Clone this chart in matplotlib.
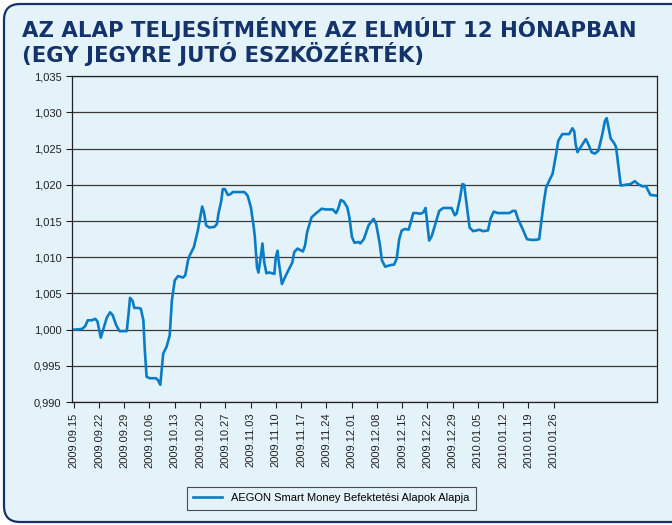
import numpy as np
import matplotlib
matplotlib.use("Agg")
from matplotlib import pyplot as plt
from matplotlib.patches import FancyBboxPatch
from matplotlib.transforms import IdentityTransform
from matplotlib.ticker import FuncFormatter

# days since 2009.09.15 and net asset value per unit
day = [0.0, 2.3, 3.2, 3.9, 5.0, 6.0, 6.6, 7.5, 8.4, 9.2, 10.1, 10.8, 11.8, 12.7,
       13.8, 14.7, 15.2, 15.6, 16.3, 16.8, 17.9, 18.6, 19.3, 19.7, 20.2, 21.1,
       22.8, 23.4, 24.0, 24.8, 25.7, 26.6, 27.2, 28.0, 28.9, 30.3, 30.9, 31.7,
       32.1, 33.3, 34.4, 35.3, 35.6, 36.1, 36.7, 37.6, 39.0, 39.7, 40.1, 40.9,
       41.3, 41.9, 42.7, 43.4, 44.1, 47.3, 48.2, 49.1, 49.9, 50.2, 50.8, 51.2,
       51.7, 52.3, 52.8, 53.4, 54.2, 55.6, 56.0, 56.5, 56.7, 57.7, 58.6, 59.7,
       60.6, 61.1, 62.0, 63.5, 64.1, 64.7, 65.9, 67.0, 68.7, 69.8, 71.8, 72.7,
       73.3, 74.0, 74.8, 75.8, 76.4, 77.1, 77.8, 79.0, 79.4, 80.4, 81.7, 83.1,
       83.8, 84.8, 85.4, 86.3, 87.7, 88.8, 89.5, 90.2, 90.9, 91.8, 92.8, 93.4,
       94.1, 95.0, 96.1, 96.9, 97.5, 98.1, 98.5, 99.2, 100.1, 101.3, 102.4,
       104.7, 105.6, 106.1, 107.0, 107.7, 108.2, 109.1, 109.7, 110.7, 112.5,
       113.4, 114.8, 115.5, 116.4, 117.5, 120.7, 121.7, 122.4, 123.1, 124.4,
       125.6, 126.7, 128.1, 129.0, 129.5, 130.2, 130.9, 131.8, 132.7, 133.6,
       134.3, 135.4, 137.3, 138.2, 138.7, 139.1, 139.6, 140.5, 141.9, 142.8,
       143.5, 144.4, 145.4, 146.5, 147.2, 147.7, 148.3, 148.8, 149.7, 150.3,
       151.0, 151.6, 152.9, 154.3, 155.5, 156.4, 157.5, 158.6, 159.8, 161.6]
nav = [1.0000, 1.0001, 1.0005, 1.0013, 1.0013, 1.0015, 1.0011, 0.9989, 1.0004,
       1.0017, 1.0024, 1.0020, 1.0006, 0.9998, 0.9998, 0.9998, 1.0022, 1.0044,
       1.0040, 1.0030, 1.0030, 1.0029, 1.0013, 0.9972, 0.9935, 0.9933, 0.9933,
       0.9930, 0.9924, 0.9967, 0.9976, 0.9992, 1.0040, 1.0068, 1.0074, 1.0072,
       1.0075, 1.0096, 1.0102, 1.0114, 1.0137, 1.0162, 1.0170, 1.0162, 1.0144,
       1.0141, 1.0142, 1.0146, 1.0160, 1.0178, 1.0194, 1.0194, 1.0186, 1.0187,
       1.0190, 1.0190, 1.0185, 1.0169, 1.0141, 1.0128, 1.0086, 1.0079, 1.0096,
       1.0119, 1.0093, 1.0078, 1.0079, 1.0077, 1.0100, 1.0109, 1.0098, 1.0063,
       1.0073, 1.0084, 1.0093, 1.0107, 1.0112, 1.0108, 1.0116, 1.0135, 1.0155,
       1.0160, 1.0167, 1.0166, 1.0166, 1.0161, 1.0167, 1.0179, 1.0177, 1.0169,
       1.0155, 1.0128, 1.0120, 1.0121, 1.0119, 1.0125, 1.0144, 1.0153, 1.0146,
       1.0119, 1.0096, 1.0087, 1.0089, 1.0090, 1.0098, 1.0125, 1.0137, 1.0139,
       1.0138, 1.0148, 1.0161, 1.0161, 1.0160, 1.0162, 1.0168, 1.0141, 1.0123,
       1.0129, 1.0144, 1.0164, 1.0168, 1.0168, 1.0158, 1.0160, 1.0180, 1.0201,
       1.0200, 1.0164, 1.0141, 1.0136, 1.0138, 1.0136, 1.0137, 1.0153, 1.0163,
       1.0161, 1.0161, 1.0164, 1.0164, 1.0153, 1.0139, 1.0125, 1.0124, 1.0124,
       1.0125, 1.0146, 1.0173, 1.0196, 1.0206, 1.0215, 1.0240, 1.0261, 1.0270,
       1.0270, 1.0278, 1.0274, 1.0256, 1.0245, 1.0252, 1.0263, 1.0254, 1.0245,
       1.0243, 1.0247, 1.0270, 1.0288, 1.0292, 1.0277, 1.0264, 1.0258, 1.0252,
       1.0224, 1.0199, 1.0200, 1.0201, 1.0205, 1.0201, 1.0198, 1.0198, 1.0186,
       1.0185]

date_labels = ["2009.09.15", "2009.09.22", "2009.09.29", "2009.10.06",
               "2009.10.13", "2009.10.20", "2009.10.27", "2009.11.03",
               "2009.11.10", "2009.11.17", "2009.11.24", "2009.12.01",
               "2009.12.08", "2009.12.15", "2009.12.22", "2009.12.29",
               "2010.01.05", "2010.01.12", "2010.01.19", "2010.01.26"]
y_ticks = [0.990, 0.995, 1.000, 1.005, 1.010, 1.015, 1.020, 1.025, 1.030, 1.035]

series_name = "AEGON Smart Money Befektetési Alapok Alapja"
title = "AZ ALAP TELJESÍTMÉNYE AZ ELMÚLT 12 HÓNAPBAN\n(EGY JEGYRE JUTÓ ESZKÖZÉRTÉK)"

bg = "#e4f3fa"
navy = "#14336b"
line_blue = "#0a7cc6"

plt.rcParams["font.family"] = ["Liberation Sans", "DejaVu Sans"]

fig = plt.figure(figsize=(6.72, 5.25), dpi=100)
fig.patch.set_facecolor("white")

# rounded frame, runs off the right edge
frame = FancyBboxPatch((4, 3), 690, 518, boxstyle="round,pad=0,rounding_size=16",
                       transform=IdentityTransform(), facecolor=bg,
                       edgecolor=navy, linewidth=1.6, zorder=-5)
fig.patches.append(frame)

fig.text(0.033, 0.921, title, color=navy, fontsize=15.3, fontweight="bold",
         family="DejaVu Sans", va="center", linespacing=1.02)

ax = fig.add_axes([0.107, 0.234, 0.871, 0.621])
ax.set_facecolor(bg)
ax.plot(day, nav, color=line_blue, linewidth=1.9, label=series_name)

ax.set_xlim(-0.5, 161.7)
ax.set_ylim(0.990, 1.035)
ax.set_yticks(y_ticks)
ax.yaxis.set_major_formatter(FuncFormatter(lambda v, p: f"{v:.3f}".replace(".", ",")))
ax.set_xticks(np.arange(len(date_labels)) * 7)
ax.set_xticklabels(date_labels, rotation=90)
ax.tick_params(labelsize=8, colors="#222222", direction="out", length=4, width=0.8)
ax.grid(axis="y", color="#3a3a3a", linewidth=0.9)
ax.set_axisbelow(True)
for side in ax.spines:
    ax.spines[side].set_color("#222222")
    ax.spines[side].set_linewidth(0.9)

leg = fig.legend(loc="center", bbox_to_anchor=(0.493, 0.051), fontsize=8,
                 frameon=True, fancybox=False, handlelength=2.6,
                 borderpad=0.6)
leg.get_frame().set_edgecolor("#222222")
leg.get_frame().set_facecolor(bg)
leg.get_frame().set_linewidth(0.8)

fig.savefig("out.png", dpi=100, facecolor=fig.get_facecolor())
